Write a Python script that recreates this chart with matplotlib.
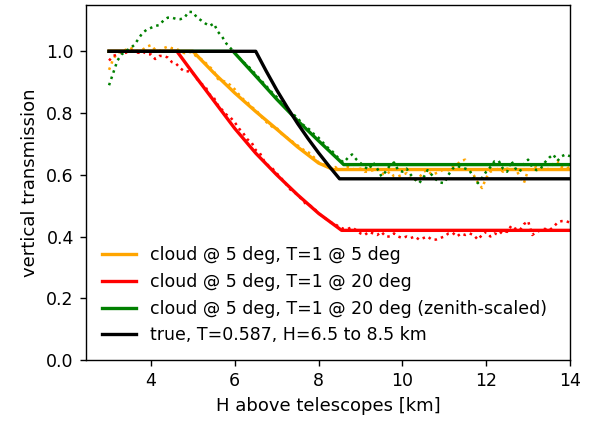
import numpy as np
import matplotlib
matplotlib.use("Agg")
from matplotlib import pyplot as plt

# everything a bit larger than the defaults
plt.rcParams['font.size'] = 12.5
plt.rcParams['axes.labelsize'] = 13
plt.rcParams['axes.linewidth'] = 1.0
plt.rcParams['axes.labelpad'] = 5.0
for a in ('xtick', 'ytick'):
    plt.rcParams[a + '.major.size'] = 4.4
    plt.rcParams[a + '.major.width'] = 1.0
    plt.rcParams[a + '.major.pad'] = 4.4

# height grid of the measured profiles [km]
heights = np.round(np.arange(3.0, 14.01, 0.1), 1)

# measured transmission profiles (noisy)
meas_5deg = [0.94, 0.975, 0.995, 1.0, 1.005, 1.012, 1.005, 1.0, 1.005, 1.015,
             1.02, 1.005, 1.0, 1.01, 1.015, 1.01, 1.009, 1.0, 0.994, 0.998,
             0.996, 0.98, 0.975, 0.963, 0.95, 0.936, 0.91, 0.905, 0.9, 0.89,
             0.877, 0.86, 0.845, 0.835, 0.82, 0.81, 0.795, 0.778, 0.765, 0.755,
             0.752, 0.735, 0.725, 0.715, 0.705, 0.695, 0.685, 0.675, 0.67, 0.655,
             0.64, 0.635, 0.63, 0.62, 0.625, 0.615, 0.62, 0.625, 0.62, 0.615,
             0.62, 0.61, 0.61, 0.615, 0.62, 0.605, 0.60, 0.61, 0.595, 0.595,
             0.60, 0.605, 0.585, 0.584, 0.59, 0.61, 0.615, 0.60, 0.605, 0.61,
             0.62, 0.615, 0.625, 0.633, 0.645, 0.649, 0.62, 0.60, 0.575, 0.557,
             0.59, 0.61, 0.615, 0.62, 0.61, 0.62, 0.615, 0.62, 0.595, 0.573,
             0.615, 0.62, 0.625, 0.62, 0.615, 0.62, 0.635, 0.644, 0.625, 0.62,
             0.625]
meas_20deg = [0.97, 0.985, 0.99, 1.0, 0.995, 1.005, 1.0, 0.995, 1.0, 0.99,
              0.99, 0.975, 0.985, 0.985, 0.98, 0.965, 0.96, 0.945, 0.935, 0.935,
              0.93, 0.91, 0.895, 0.885, 0.86, 0.85, 0.825, 0.81, 0.795, 0.785,
              0.77, 0.75, 0.735, 0.715, 0.705, 0.68, 0.67, 0.645, 0.63, 0.62,
              0.605, 0.59, 0.575, 0.555, 0.545, 0.535, 0.52, 0.505, 0.50, 0.49,
              0.475, 0.465, 0.455, 0.445, 0.44, 0.43, 0.425, 0.425, 0.43, 0.42,
              0.41, 0.405, 0.415, 0.41, 0.405, 0.415, 0.40, 0.40, 0.41, 0.40,
              0.395, 0.40, 0.395, 0.40, 0.39, 0.395, 0.40, 0.39, 0.39, 0.395,
              0.40, 0.41, 0.412, 0.40, 0.41, 0.405, 0.41, 0.405, 0.39, 0.405,
              0.415, 0.40, 0.41, 0.405, 0.42, 0.415, 0.435, 0.425, 0.42, 0.44,
              0.45, 0.405, 0.415, 0.42, 0.425, 0.42, 0.43, 0.445, 0.45, 0.45,
              0.445]
meas_20deg_zs = [0.89, 0.93, 0.97, 0.99, 1.0, 1.01, 1.02, 1.04, 1.06, 1.07,
                 1.076, 1.082, 1.085, 1.10, 1.109, 1.109, 1.105, 1.104, 1.109, 1.128,
                 1.127, 1.109, 1.10, 1.09, 1.082, 1.09, 1.063, 1.047, 1.025, 1.01,
                 0.995, 0.98, 0.965, 0.955, 0.94, 0.925, 0.91, 0.895, 0.88, 0.865,
                 0.852, 0.835, 0.82, 0.805, 0.795, 0.785, 0.765, 0.755, 0.745, 0.73,
                 0.72, 0.705, 0.69, 0.68, 0.665, 0.65, 0.64, 0.655, 0.666, 0.65,
                 0.638, 0.625, 0.617, 0.64, 0.62, 0.595, 0.61, 0.63, 0.64, 0.615,
                 0.61, 0.62, 0.60, 0.585, 0.573, 0.59, 0.615, 0.60, 0.585, 0.575,
                 0.573, 0.60, 0.62, 0.628, 0.625, 0.62, 0.615, 0.59, 0.573, 0.59,
                 0.61, 0.625, 0.644, 0.645, 0.62, 0.61, 0.645, 0.62, 0.61, 0.635,
                 0.649, 0.625, 0.615, 0.62, 0.64, 0.655, 0.666, 0.645, 0.66, 0.666,
                 0.66]

# fitted profiles
fit_5deg_h = [3.0, 5.0, 5.5, 6.0, 6.5, 7.0, 7.5, 8.0, 8.35, 14.0]
fit_5deg_t = [1.0, 1.0, 0.93, 0.865, 0.805, 0.748, 0.69, 0.638, 0.617, 0.617]
fit_20deg_h = [3.0, 4.62, 5.0, 5.5, 6.0, 6.5, 7.0, 7.5, 8.0, 8.55, 14.0]
fit_20deg_t = [1.0, 1.0, 0.93, 0.84, 0.75, 0.67, 0.60, 0.535, 0.475, 0.42, 0.42]
fit_20deg_zs_h = [3.0, 5.96, 6.5, 7.0, 7.5, 8.0, 8.6, 14.0]
fit_20deg_zs_t = [1.0, 1.0, 0.92, 0.845, 0.775, 0.71, 0.633, 0.633]

# true cloud layer
true_h = [3.0, 6.5, 6.75, 7.0, 7.25, 7.5, 7.75, 8.0, 8.25, 8.5, 14.0]
true_t = [1.0, 1.0, 0.936, 0.875, 0.819, 0.766, 0.717, 0.671, 0.628, 0.587, 0.587]

fig = plt.figure(figsize=(5.91, 4.26), dpi=100)
ax = fig.add_axes([86/591, 1 - 360/426, 484/591, 355/426])

ax.plot(heights, meas_5deg, ':', color='orange', lw=1.8)
ax.plot(fit_5deg_h, fit_5deg_t, '-', color='orange', lw=2.4, label='cloud @ 5 deg, T=1 @ 5 deg')
ax.plot(heights, meas_20deg, ':', color='red', lw=1.8)
ax.plot(fit_20deg_h, fit_20deg_t, '-', color='red', lw=2.4, label='cloud @ 5 deg, T=1 @ 20 deg')
ax.plot(heights, meas_20deg_zs, ':', color='green', lw=1.8)
ax.plot(fit_20deg_zs_h, fit_20deg_zs_t, '-', color='green', lw=2.4,
        label='cloud @ 5 deg, T=1 @ 20 deg (zenith-scaled)')
ax.plot(true_h, true_t, '-', color='black', lw=2.4, label='true, T=0.587, H=6.5 to 8.5 km')

ax.set_xlim(2.45, 14)
ax.set_ylim(0, 1.15)
ax.set_xticks([4, 6, 8, 10, 12, 14])
ax.set_yticks([0.0, 0.2, 0.4, 0.6, 0.8, 1.0])
ax.set_xlabel('H above telescopes [km]')
ax.set_ylabel('vertical transmission')
ax.legend(loc='lower left', frameon=False)

fig.savefig('out.png', dpi=100)
